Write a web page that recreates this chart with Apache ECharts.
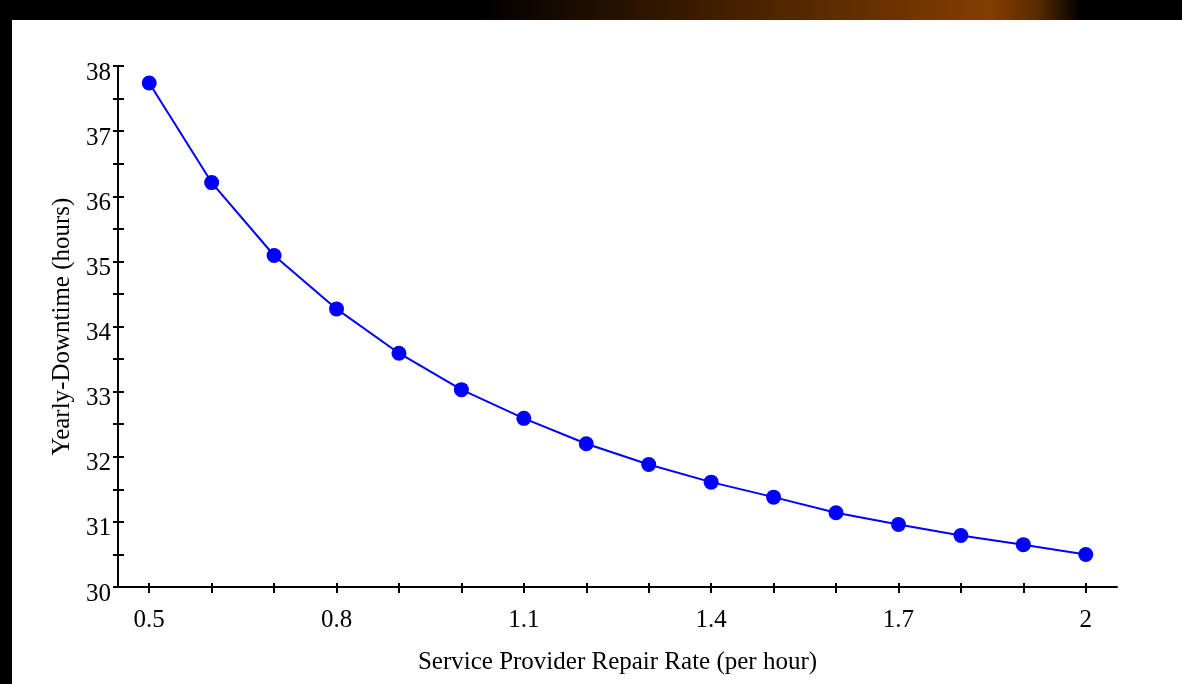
<!DOCTYPE html>
<html>
<head>
<meta charset="utf-8">
<script src="https://cdn.jsdelivr.net/npm/echarts@6/dist/echarts.min.js"></script>
<style>
html, body { margin: 0; padding: 0; background: #000; }
#chart { width: 1182px; height: 684px; }
</style>
</head>
<body>
<div id="chart"></div>
<script>
// repair rate (per hour) vs yearly downtime (hours)
var repairRate = [0.5, 0.6, 0.7, 0.8, 0.9, 1.0, 1.1, 1.2, 1.3, 1.4, 1.5, 1.6, 1.7, 1.8, 1.9, 2.0];
var downtime = [37.74, 36.21, 35.09, 34.27, 33.59, 33.03, 32.59, 32.20, 31.88, 31.61, 31.38, 31.14, 30.96, 30.79, 30.65, 30.50];

var xTicks = [0.5, 0.6, 0.7, 0.8, 0.9, 1.0, 1.1, 1.2, 1.3, 1.4, 1.5, 1.6, 1.7, 1.8, 1.9, 2.0];
var xLabels = [0.5, 0.8, 1.1, 1.4, 1.7, 2];
var yTicks = [30, 30.5, 31, 31.5, 32, 32.5, 33, 33.5, 34, 34.5, 35, 35.5, 36, 36.5, 37, 37.5, 38];
var yLabels = [30, 31, 32, 33, 34, 35, 36, 37, 38];

var serif = "'Liberation Serif', 'DejaVu Serif', serif";
var gridLeft = 118, gridTop = 66, gridRight = 65, gridBottom = 97;
var plotW = 1182 - gridLeft - gridRight;
var plotH = 684 - gridTop - gridBottom;

var chart = echarts.init(document.getElementById('chart'));

var option = {
	animation: false,
	backgroundColor: '#000',
	graphic: [
		{
			type: 'rect', z: -10, silent: true,
			shape: { x: 480, y: 0, width: 600, height: 20 },
			style: {
				fill: new echarts.graphic.LinearGradient(0, 0, 1, 0, [
					{ offset: 0, color: '#000' },
					{ offset: 0.45, color: '#4a2200' },
					{ offset: 0.85, color: '#823e00' },
					{ offset: 0.93, color: '#5a2a00' },
					{ offset: 1, color: '#000' }
				])
			}
		},
		{
			type: 'rect', z: -5, silent: true,
			shape: { x: 12, y: 20, width: 1170, height: 664 },
			style: { fill: '#fff' }
		}
	],
	grid: {
		left: gridLeft,
		top: gridTop,
		right: gridRight,
		bottom: gridBottom
	},
	xAxis: [
		{
			type: 'value',
			min: 0.45,
			max: 2.05,
			name: 'Service Provider Repair Rate (per hour)',
			nameLocation: 'middle',
			nameGap: 63,
			nameTextStyle: { fontFamily: serif, fontSize: 25, color: '#000' },
			axisLine: { onZero: false, lineStyle: { color: '#000', width: 2 } },
			axisTick: { customValues: xTicks, length: 6, lineStyle: { color: '#000', width: 2 } },
			axisLabel: { customValues: xLabels, margin: 21, fontFamily: serif, fontSize: 25, color: '#000' },
			splitLine: { show: false }
		},
		{
			// upper half of the crossing ticks
			type: 'value',
			position: 'top',
			offset: -plotH,
			min: 0.45,
			max: 2.05,
			axisLine: { show: false, onZero: false },
			axisTick: { customValues: xTicks, length: 4, lineStyle: { color: '#000', width: 2 } },
			axisLabel: { show: false },
			splitLine: { show: false }
		}
	],
	yAxis: [
		{
			type: 'value',
			min: 30,
			max: 38,
			interval: 1,
			name: 'Yearly-Downtime (hours)',
			nameLocation: 'middle',
			nameGap: 39,
			nameTextStyle: { fontFamily: serif, fontSize: 25, color: '#000' },
			axisLine: { show: true, onZero: false, lineStyle: { color: '#000', width: 2 } },
			axisTick: { show: true, customValues: yTicks, length: 5, lineStyle: { color: '#000', width: 2 } },
			axisLabel: {
				customValues: yLabels, margin: 7, verticalAlign: 'top', lineHeight: 14,
				fontFamily: serif, fontSize: 25, color: '#000'
			},
			splitLine: { show: false }
		},
		{
			// right half of the crossing ticks
			type: 'value',
			position: 'right',
			offset: -plotW,
			min: 30,
			max: 38,
			interval: 1,
			axisLine: { show: false, onZero: false },
			axisTick: { show: true, customValues: yTicks, length: 6, lineStyle: { color: '#000', width: 2 } },
			axisLabel: { show: false },
			splitLine: { show: false }
		}
	],
	series: [
		{
			type: 'line',
			data: repairRate.map(function (r, i) { return [r, downtime[i]]; }),
			symbol: 'circle',
			symbolSize: 15,
			color: '#0000ff',
			lineStyle: { color: '#0000ff', width: 2 },
			itemStyle: { color: '#0000ff' }
		}
	]
};

chart.setOption(option);
</script>
</body>
</html>
